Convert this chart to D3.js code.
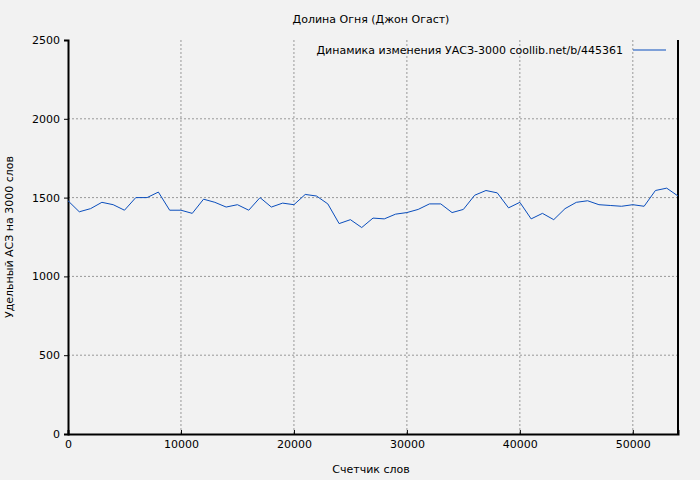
<!DOCTYPE html>
<html><head><meta charset="utf-8">
<script src="https://cdn.jsdelivr.net/npm/d3@7"></script>
<style>body{margin:0;background:#f2f2f2}text{font-family:"DejaVu Sans",sans-serif;font-size:11px}</style>
</head><body>
<script>
// значения УАСЗ каждые 1000 слов
const words = d3.range(0, 55000, 1000);
const values = [1480,1410,1430,1470,1455,1420,1500,1500,1535,1420,1420,1400,1490,1470,1440,1455,1420,1500,1440,1465,
  1455,1520,1510,1460,1335,1360,1310,1370,1365,1395,1405,1425,1460,1460,1405,1425,1515,1545,1530,1435,
  1470,1365,1400,1360,1430,1470,1480,1455,1450,1445,1455,1445,1545,1560,1510];
const xTicks = [0,10000,20000,30000,40000,50000];
const yTicks = [0,500,1000,1500,2000,2500];

const W = 700, H = 480, m = {top:40, right:22, bottom:46, left:68};
const svg = d3.select("body").append("svg").attr("width", W).attr("height", H);
svg.append("rect").attr("width", W).attr("height", H).attr("fill", "#f2f2f2");

const x = d3.scaleLinear().domain([0, 54000]).range([m.left, W - m.right]);
const y = d3.scaleLinear().domain([0, 2500]).range([H - m.bottom, m.top]);

// сетка
svg.append("g").selectAll("line").data(xTicks.slice(1)).join("line")
  .attr("x1", d => x(d)).attr("x2", d => x(d)).attr("y1", y(0)).attr("y2", y(2500))
  .attr("stroke", "#999").attr("stroke-dasharray", "2,2");
svg.append("g").selectAll("line").data(yTicks.slice(1, -1)).join("line")
  .attr("x1", x(0)).attr("x2", x(54000)).attr("y1", d => y(d)).attr("y2", d => y(d))
  .attr("stroke", "#999").attr("stroke-dasharray", "2,2");

svg.append("g").attr("transform", `translate(0,${y(0)})`)
  .call(d3.axisBottom(x).tickValues(xTicks).tickSize(-4).tickPadding(6).tickFormat(d3.format("d")))
  .call(g => g.select(".domain").attr("stroke-width", 2));
svg.append("g").attr("transform", `translate(${x(0)},0)`)
  .call(d3.axisLeft(y).tickValues(yTicks).tickSize(4).tickPadding(4).tickFormat(d3.format("d")))
  .call(g => g.select(".domain").attr("stroke-width", 2));
svg.append("line").attr("x1", x(54000)).attr("x2", x(54000)).attr("y1", y(0)).attr("y2", y(2500))
  .attr("stroke", "#000").attr("stroke-width", 2);
svg.selectAll(".tick text").attr("font-size", 11).attr("fill", "#000");

svg.append("path").datum(values)
  .attr("fill", "none").attr("stroke", "#0a4ebd").attr("stroke-width", 1)
  .attr("d", d3.line().x((d, i) => x(words[i])).y(d => y(d)));

svg.append("text").attr("x", 371).attr("y", 23).attr("text-anchor", "middle").text("Долина Огня (Джон Огаст)");
svg.append("text").attr("x", 371).attr("y", 473).attr("text-anchor", "middle").text("Счетчик слов");
svg.append("text").attr("transform", "translate(13,237) rotate(-90)").attr("text-anchor", "middle").text("Удельный АСЗ на 3000 слов");

svg.append("text").attr("x", 623).attr("y", 54).attr("text-anchor", "end").text("Динамика изменения УАСЗ-3000  coollib.net/b/445361");
svg.append("line").attr("x1", 633).attr("x2", 666).attr("y1", 50).attr("y2", 50).attr("stroke", "#0a4ebd");
</script>
</body></html>
